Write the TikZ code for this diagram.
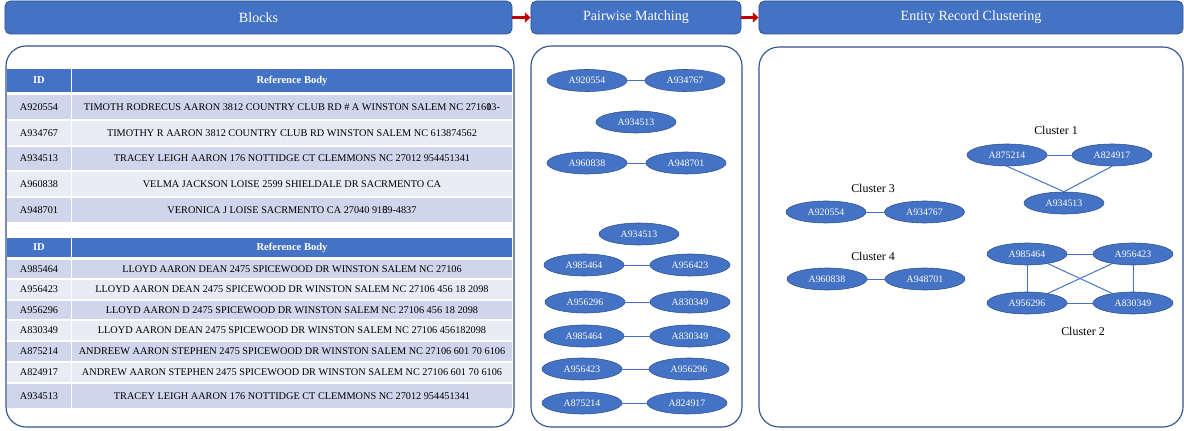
\documentclass[tikz,border=0pt]{standalone}
\usepackage{fontspec}
\setmainfont{Liberation Serif}
\usetikzlibrary{shapes.geometric,arrows.meta}

\definecolor{hdrblue}{HTML}{4472C4}
\definecolor{hdrline}{HTML}{2F528F}
\definecolor{rowdark}{HTML}{CFD5EA}
\definecolor{rowlight}{HTML}{E9EBF5}
\definecolor{arrowred}{HTML}{C00000}

\tikzset{
  stage/.style={draw=hdrline, fill=hdrblue, rounded corners=4pt, text=white,
    font=\fontsize{10}{12}\selectfont, minimum height=0.825cm, inner sep=0pt, line width=0.6pt},
  panel/.style={draw=hdrline, line width=0.8pt, rounded corners=0.5cm},
  flow/.style={arrowred, line width=2pt, -{Triangle[length=4pt,width=7pt]}},
  rec/.style={ellipse, draw=hdrline, fill=hdrblue, text=white, line width=0.4pt,
    minimum width=2cm, minimum height=0.55cm, inner sep=0pt, font=\fontsize{7}{8}\selectfont},
  link/.style={hdrblue, line width=0.7pt},
  cell/.style={font=\fontsize{7.3}{8}\selectfont, inner sep=0pt},
  headcell/.style={font=\fontsize{7.5}{9}\selectfont\bfseries, text=white, inner sep=0pt},
  clabel/.style={font=\fontsize{8.5}{10}\selectfont},
}

\begin{document}
\begin{tikzpicture}[x=0.025cm,y=-0.025cm]
\useasboundingbox (0,0) rectangle (1184,431);

% stage headers
\node[stage, minimum width=12.675cm] (blocks) at (258.5,17.5) {Blocks};
\node[stage, minimum width=5.25cm] (pairs) at (636,17.5) {Pairwise Matching};
\node[stage, minimum width=10.6cm] (clusters) at (971,17.5) {Entity Record Clustering};
\draw[flow] (blocks) -- (pairs);
\draw[flow] (pairs) -- (clusters);

% panels
\draw[panel] (6,46) rectangle (514,427);
\draw[panel] (531,46) rectangle (742,427);
\draw[panel] (759,47) rectangle (1183,427);

% first block
\fill[hdrblue] (7,69) rectangle (71,92);
\fill[hdrblue] (72,69) rectangle (512,92);
\node[headcell] (h1id) at (39,80.5) {ID};
\node[headcell] (h1body) at (292,80.5) {Reference Body};
\foreach \yt/\yb/\shade/\rid/\rtext [count=\i] in {
  95/119/rowdark/A920554/TIMOTH RODRECUS AARON 3812 COUNTRY CLUB RD \# A WINSTON SALEM NC 2716\rlap{0}13-,
  121/145/rowlight/A934767/TIMOTHY R AARON 3812 COUNTRY CLUB RD WINSTON SALEM NC 613874562,
  147/170/rowdark/A934513/TRACEY LEIGH AARON 176 NOTTIDGE CT CLEMMONS NC 27012 954451341,
  172/196/rowlight/A960838/VELMA JACKSON LOISE 2599 SHIELDALE DR SACRMENTO CA,
  198/222/rowdark/A948701/VERONICA J LOISE SACRMENTO CA 27040 91\rlap{6}39-4837}{
  \fill[\shade] (7,\yt) rectangle (71,\yb);
  \fill[\shade] (72,\yt) rectangle (512,\yb);
  \node[cell] (b1id\i) at (39,{(\yt+\yb)/2}) {\rid};
  \node[cell] (b1txt\i) at (292,{(\yt+\yb)/2}) {\rtext};
}

% second block
\fill[hdrblue] (7,238) rectangle (71,257);
\fill[hdrblue] (72,238) rectangle (512,257);
\node[headcell] (h2id) at (39,247.5) {ID};
\node[headcell] (h2body) at (292,247.5) {Reference Body};
\foreach \yt/\yb/\shade/\rid/\rtext [count=\i] in {
  260/278/rowdark/A985464/LLOYD AARON DEAN 2475 SPICEWOOD DR WINSTON SALEM NC 27106,
  280/299/rowlight/A956423/LLOYD AARON DEAN 2475 SPICEWOOD DR WINSTON SALEM NC 27106 456 18 2098,
  301/319/rowdark/A956296/LLOYD AARON D 2475 SPICEWOOD DR WINSTON SALEM NC 27106 456 18 2098,
  321/340/rowlight/A830349/LLOYD AARON DEAN 2475 SPICEWOOD DR WINSTON SALEM NC 27106 456182098,
  342/361/rowdark/A875214/ANDREEW AARON STEPHEN 2475 SPICEWOOD DR WINSTON SALEM NC 27106 601 70 6106,
  363/382/rowlight/A824917/ANDREW AARON STEPHEN 2475 SPICEWOOD DR WINSTON SALEM NC 27106 601 70 6106,
  384/408/rowdark/A934513/TRACEY LEIGH AARON 176 NOTTIDGE CT CLEMMONS NC 27012 954451341}{
  \fill[\shade] (7,\yt) rectangle (71,\yb);
  \fill[\shade] (72,\yt) rectangle (512,\yb);
  \node[cell] (b2id\i) at (39,{(\yt+\yb)/2}) {\rid};
  \node[cell] (b2txt\i) at (292,{(\yt+\yb)/2}) {\rtext};
}

% pairwise matching
\node[rec] (p1) at (587,80.5) {A920554};
\node[rec] (p2) at (685,80.5) {A934767};
\node[rec] (p3) at (636,122) {A934513};
\node[rec] (p4) at (587,163) {A960838};
\node[rec] (p5) at (686,163) {A948701};
\node[rec] (p6) at (639,234) {A934513};
\node[rec] (p7) at (584,265) {A985464};
\node[rec] (p8) at (690,265) {A956423};
\node[rec] (p9) at (585,302) {A956296};
\node[rec] (p10) at (690,302) {A830349};
\node[rec] (p11) at (584,336) {A985464};
\node[rec] (p12) at (690,336) {A830349};
\node[rec] (p13) at (582,369) {A956423};
\node[rec] (p14) at (689,369) {A956296};
\node[rec] (p15) at (582,403) {A875214};
\node[rec] (p16) at (687,403) {A824917};
\draw[link] (p1) -- (p2);
\draw[link] (p4) -- (p5);
\draw[link] (p7) -- (p8);
\draw[link] (p9) -- (p10);
\draw[link] (p11) -- (p12);
\draw[link] (p13) -- (p14);
\draw[link] (p15) -- (p16);

% clusters
\node[clabel] (lab1) at (1056,130) {Cluster 1};
\node[rec] (c1a) at (1007,155) {A875214};
\node[rec] (c1b) at (1112,155) {A824917};
\node[rec] (c1c) at (1064,203) {A934513};
\draw[link] (c1a) -- (c1b);
\draw[link] (c1a.south) -- (c1c.north);
\draw[link] (c1b.south) -- (c1c.north);

\node[clabel] (lab3) at (873,188) {Cluster 3};
\node[rec] (c3a) at (826,212) {A920554};
\node[rec] (c3b) at (924.5,212) {A934767};
\draw[link] (c3a) -- (c3b);

\node[clabel] (lab4) at (873,256) {Cluster 4};
\node[rec] (c4a) at (827,279) {A960838};
\node[rec] (c4b) at (925,279) {A948701};
\draw[link] (c4a) -- (c4b);

\node[rec] (c2a) at (1027,254) {A985464};
\node[rec] (c2b) at (1133,254) {A956423};
\node[rec] (c2c) at (1027,303) {A956296};
\node[rec] (c2d) at (1133,303) {A830349};
\node[clabel] (lab2) at (1083,331) {Cluster 2};
\draw[link] (c2a) -- (c2b);
\draw[link] (c2c) -- (c2d);
\draw[link] (c2a) -- (c2c);
\draw[link] (c2b) -- (c2d);
\draw[link] (c2a) -- (c2d);
\draw[link] (c2b) -- (c2c);
\end{tikzpicture}
\end{document}
